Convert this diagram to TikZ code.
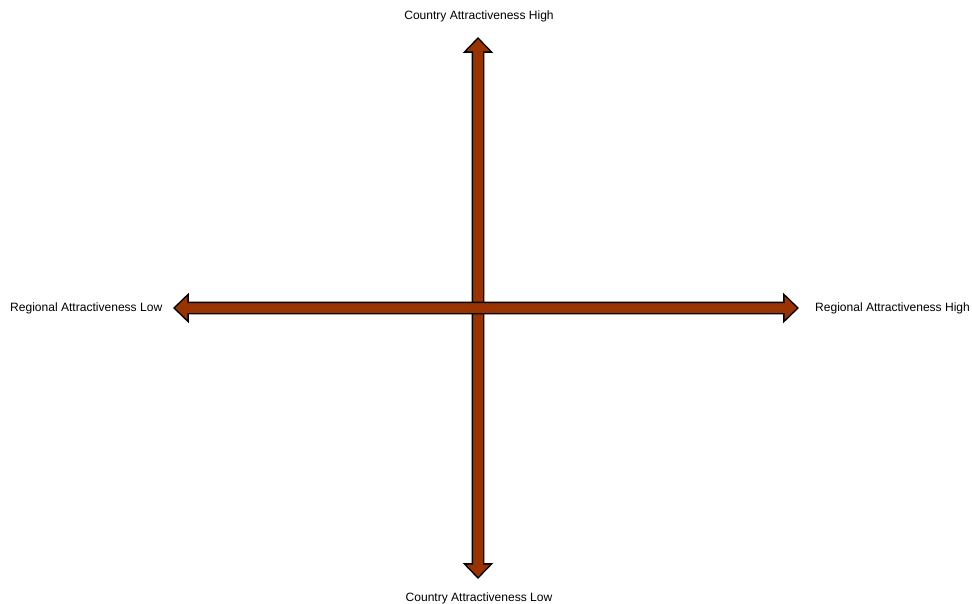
\documentclass[tikz,border=0pt]{standalone}
\usepackage{fontspec}
\setmainfont{Liberation Sans}
\usetikzlibrary{shapes.arrows}

\definecolor{axisbrown}{RGB}{153,51,0}

\tikzset{
  axisarrow/.style={double arrow, draw=black, fill=axisbrown, line width=1.3pt,
    inner sep=5pt, double arrow head extend=8pt, double arrow tip angle=88},
  axislabel/.style={font=\fontsize{12.05}{14}\selectfont, inner sep=0pt}
}

\begin{document}
\begin{tikzpicture}[x=1pt, y=1pt]
    \useasboundingbox (0,0) rectangle (972,-604);

    % axes
    \node[axisarrow, rotate=90, minimum height=540pt] (country) at (478,-308) {};
    \node[axisarrow, minimum height=624pt] (regional) at (486,-308) {};

    % labels
    \node[axislabel] (cHigh) at (479,-16) {Country Attractiveness High};
    \node[axislabel] (cLow) at (479,-598) {Country Attractiveness Low};
    \node[axislabel, anchor=west] (rLow) at (10,-308) {Regional Attractiveness Low};
    \node[axislabel, anchor=west] (rHigh) at (815,-308) {Regional Attractiveness High};
\end{tikzpicture}
\end{document}
